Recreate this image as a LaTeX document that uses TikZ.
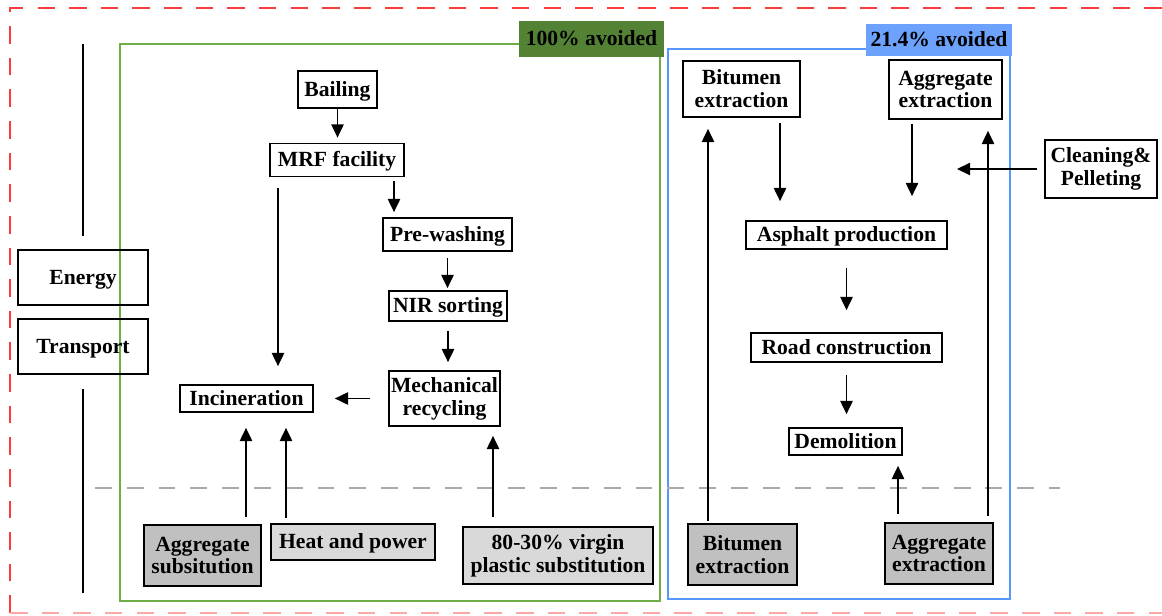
\documentclass[tikz,border=0pt]{standalone}
\usepackage{fontspec}
\setmainfont{Liberation Serif}
\usepackage{tikz}
\usetikzlibrary{arrows.meta}

\definecolor{redline}{RGB}{250,60,60}
\definecolor{greenline}{RGB}{112,173,71}
\definecolor{greenfill}{RGB}{84,130,53}
\definecolor{blueline}{RGB}{85,150,255}
\definecolor{bluefill}{RGB}{108,162,252}
\definecolor{darkfill}{RGB}{192,192,192}
\definecolor{lightfill}{RGB}{217,217,217}
\definecolor{midline}{RGB}{170,170,170}

\begin{document}
\begin{tikzpicture}[x=0.02cm,y=-0.02cm,
  box/.style={draw,line width=1pt,align=center,inner sep=1pt,
    font=\bfseries\fontsize{12.3}{13}\selectfont},
  oneline/.style={text height=0.8em,text depth=0.02em},
  darkbox/.style={box,fill=darkfill},
  lightbox/.style={box,fill=lightfill},
  tag/.style={inner sep=1pt,align=center,oneline,font=\bfseries\fontsize{12.3}{13}\selectfont},
  arr/.style={-{Triangle[length=7.5pt,width=7pt]},line width=0.9pt}]
          \useasboundingbox (0,0) rectangle (1162,615);
          % outer frame
          \draw[redline,line width=1.1pt,dash pattern=on 10pt off 8pt] (10,613) -- (10,8) -- (1180,8);
          \draw[redline!45,line width=1.1pt,dash pattern=on 10pt off 8pt] (10,613) -- (1180,613);
          % plastic part
          \draw[greenline,line width=1.1pt] (120,44) rectangle (660,601);
          \node[tag,fill=greenfill,minimum width=2.9cm,minimum height=0.72cm] (tagplastic) at (591.5,39) {100\% avoided};
          % road part
          \draw[blueline,line width=1.1pt] (668,49) rectangle (1010,599);
          \node[tag,fill=bluefill,minimum width=2.92cm,minimum height=0.64cm] (tagroad) at (939,40) {21.4\% avoided};
          % foreground / background split
          \draw[midline,line width=1.1pt,dash pattern=on 9.6pt off 8.5pt] (95,488) -- (1060,488);
          % energy and transport
          \node[box,oneline,minimum width=2.6cm,minimum height=1.1cm] (energy) at (83,277.5) {Energy};
          \node[box,oneline,minimum width=2.6cm,minimum height=1.1cm] (transport) at (83,346.5) {Transport};
          \draw[line width=0.9pt,shorten <=0.26cm] (energy.north) -- (83,44);
          \draw[line width=0.9pt,shorten <=0.28cm] (transport.south) -- (83,593);
          % plastic chain
          \node[box,oneline,minimum width=1.58cm,minimum height=0.74cm] (bail) at (337.5,89.5) {Bailing};
          \node[box,oneline,minimum width=2.68cm,minimum height=0.66cm] (mrf) at (337,160) {MRF facility};
          \node[box,oneline,minimum width=2.58cm,minimum height=0.66cm] (prewash) at (447.5,234.5) {Pre-washing};
          \node[box,oneline,minimum width=2.36cm,minimum height=0.6cm] (nir) at (448,306) {NIR sorting};
          \node[box,minimum width=2.22cm,minimum height=1.1cm] (mech) at (444.5,398.5) {Mechanical\\recycling};
          \node[box,oneline,minimum width=2.66cm,minimum height=0.54cm] (inc) at (246.5,398.5) {Incineration};
          \node[darkbox,minimum width=2.34cm,minimum height=1.22cm] (aggsub) at (202.5,555.5) {Aggregate\\subsitution};
          \node[lightbox,oneline,minimum width=3.28cm,minimum height=0.72cm] (heat) at (353,542) {Heat and power};
          \node[lightbox,minimum width=3.8cm,minimum height=1.14cm] (virgin) at (558,555.5) {80-30\% virgin\\plastic substitution};
          \draw[arr,shorten >=0.1cm] (bail.south) -- (bail.south |- mrf.north);
          \draw[arr,shorten <=0.22cm,shorten >=0.36cm] (mrf.south -| 278,0) -- (inc.north -| 278,0);
          \draw[arr,shorten <=0.08cm,shorten >=0.1cm] (mrf.south -| 394,0) -- (prewash.north -| 394,0);
          \draw[arr,shorten <=0.12cm,shorten >=0.04cm] (prewash.south) -- (prewash.south |- nir.north);
          \draw[arr,shorten <=0.18cm,shorten >=0.16cm] (nir.south) -- (nir.south |- mech.north);
          \draw[arr,shorten <=0.36cm,shorten >=0.42cm] (mech.west) -- (mech.west -| inc.east);
          \draw[arr,shorten <=0.14cm,shorten >=0.3cm] (aggsub.north -| 246,0) -- (inc.south -| 246,0);
          \draw[arr,shorten <=0.1cm,shorten >=0.3cm] (heat.north -| 286,0) -- (inc.south -| 286,0);
          \draw[arr,shorten <=0.18cm,shorten >=0.18cm] (virgin.north -| 493,0) -- (mech.south -| 493,0);
          % road chain
          \node[box,minimum width=2.34cm,minimum height=1.12cm] (bittop) at (741.5,89) {Bitumen\\extraction};
          \node[box,minimum width=2.26cm,minimum height=1.18cm] (aggtop) at (945.5,89.5) {Aggregate\\extraction};
          \node[box,minimum width=2.24cm,minimum height=1.16cm] (clean) at (1101,169) {Cleaning\&\\Pelleting};
          \node[box,oneline,minimum width=4.02cm,minimum height=0.56cm] (asphalt) at (846.5,235) {Asphalt production};
          \node[box,oneline,minimum width=3.82cm,minimum height=0.58cm] (road) at (846.5,347.5) {Road construction};
          \node[box,oneline,minimum width=2.26cm,minimum height=0.54cm] (demol) at (845.5,441.5) {Demolition};
          \node[darkbox,minimum width=2.18cm,minimum height=1.22cm] (bitbot) at (742.5,554.5) {Bitumen\\extraction};
          \node[darkbox,minimum width=2.16cm,minimum height=1.22cm] (aggbot) at (939,553.5) {Aggregate\\extraction};
          \coordinate (cleanend) at (957,169);
          \draw[arr,shorten <=0.1cm,shorten >=0.38cm] (bittop.south -| 780,0) -- (asphalt.north -| 780,0);
          \draw[arr,shorten <=0.08cm,shorten >=0.48cm] (aggtop.south -| 912,0) -- (asphalt.north -| 912,0);
          \draw[arr,shorten <=0.14cm] (clean.west) -- (cleanend);
          \draw[arr,shorten <=0.36cm,shorten >=0.44cm] (asphalt.south) -- (asphalt.south |- road.north);
          \draw[arr,shorten <=0.24cm,shorten >=0.26cm] (road.south) -- (road.south |- demol.north);
          \draw[arr,shorten <=0.16cm,shorten >=0.2cm] (aggbot.north -| 898,0) -- (demol.south -| 898,0);
          \draw[arr,shorten <=0.12cm,shorten >=0.22cm] (aggbot.north -| 988,0) -- (aggtop.south -| 988,0);
          \draw[arr,shorten <=0.04cm,shorten >=0.22cm] (bitbot.north -| 708,0) -- (bittop.south -| 708,0);
        \end{tikzpicture}
\end{document}
